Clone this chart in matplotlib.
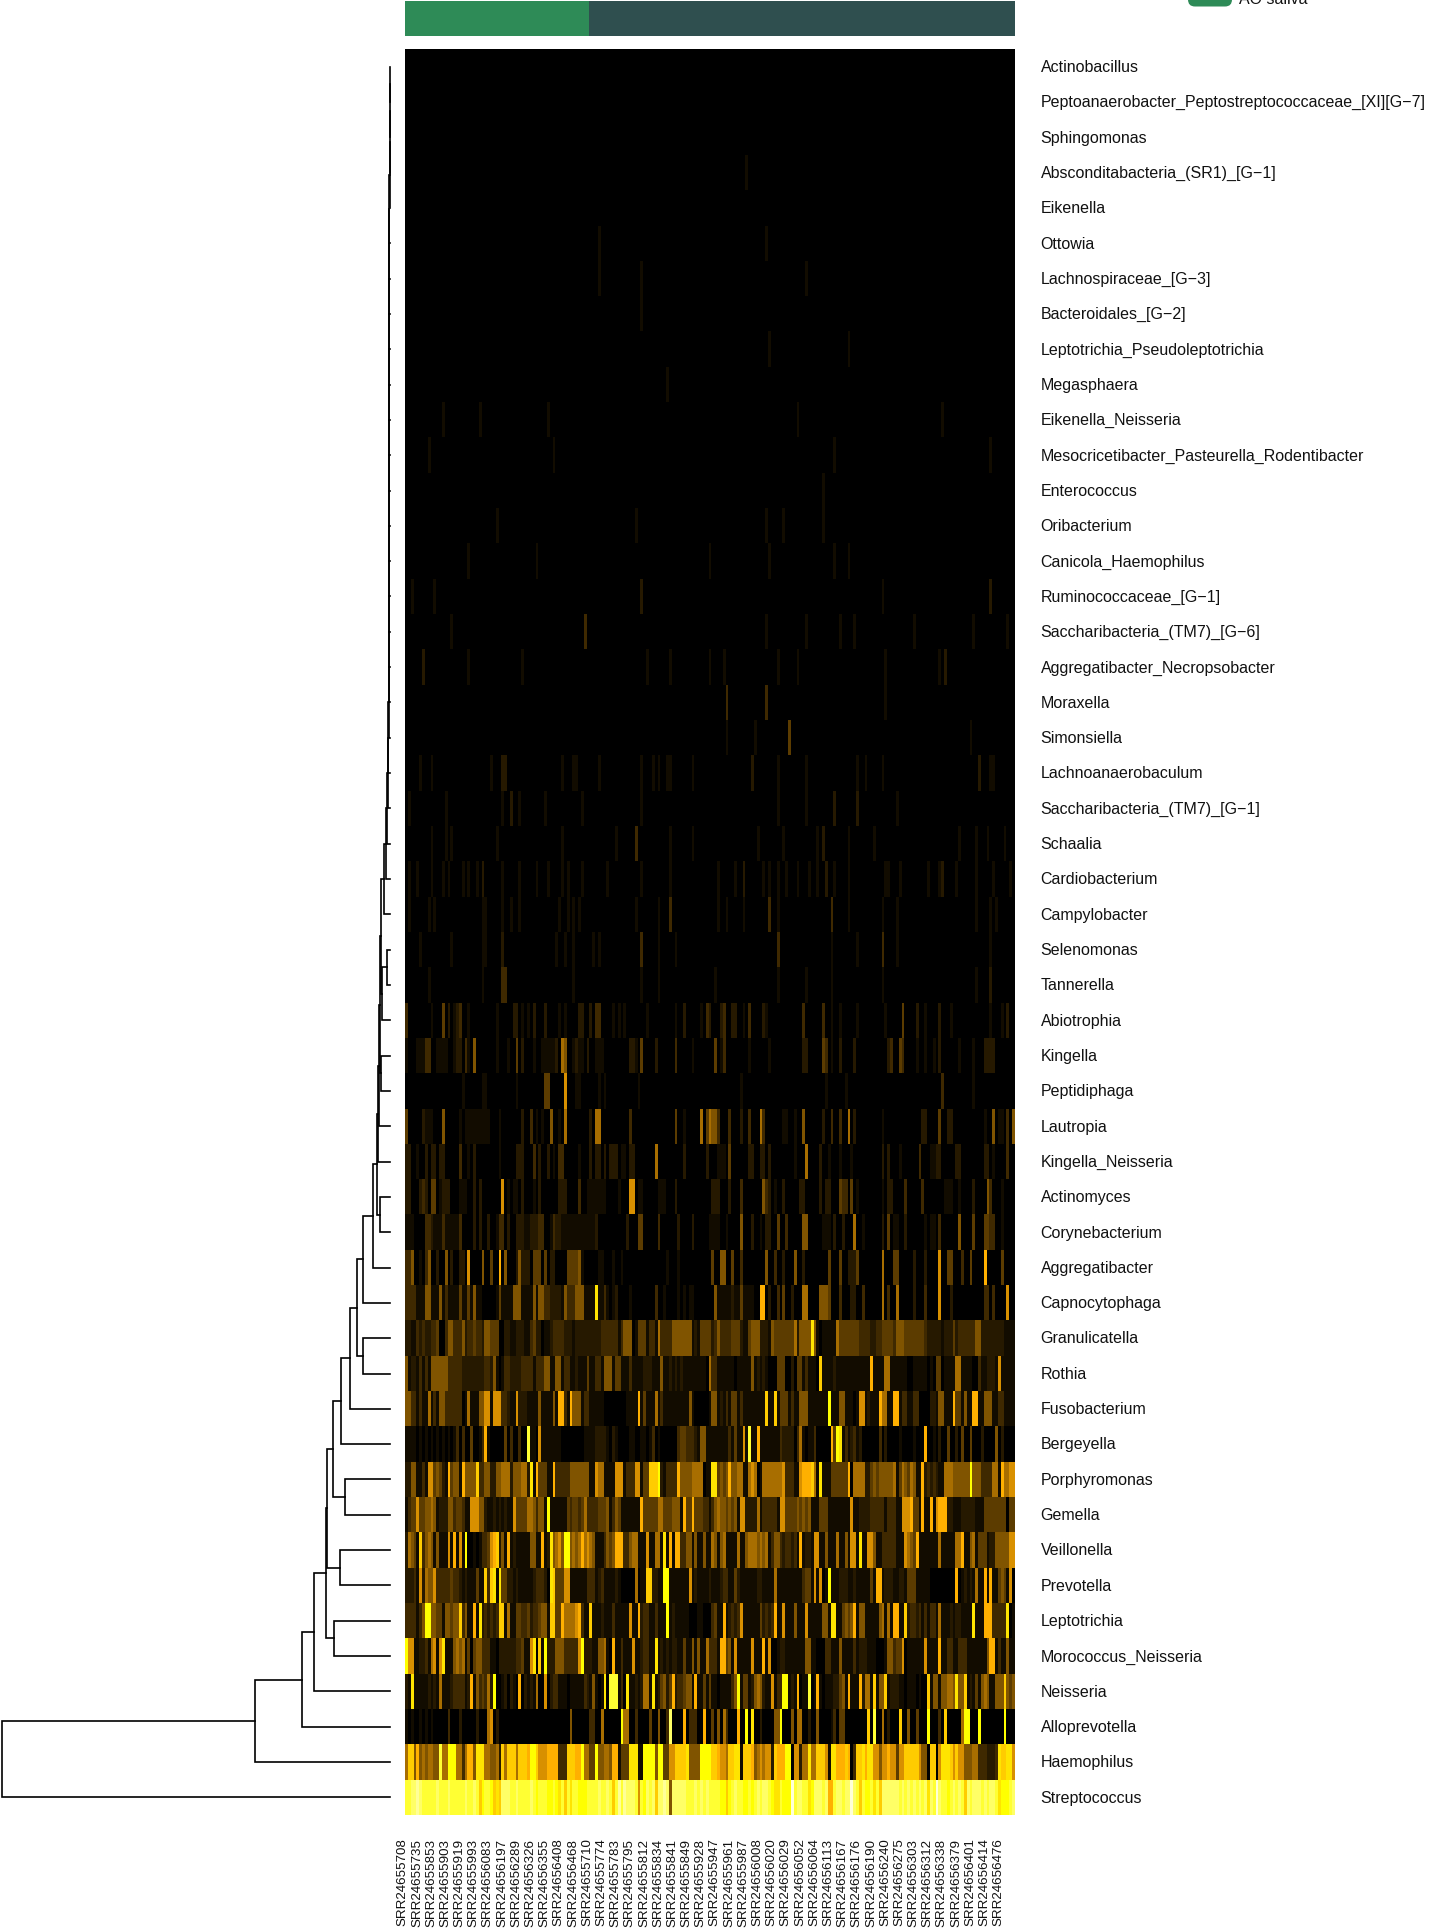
import numpy as np
import matplotlib

matplotlib.use('Agg')

import matplotlib.pyplot as plt
from matplotlib.colors import LinearSegmentedColormap, ListedColormap
from matplotlib.patches import FancyBboxPatch
from matplotlib.transforms import ScaledTranslation

plt.rcParams['font.family'] = ['Liberation Sans', 'DejaVu Sans']

taxa = [
    "Actinobacillus", "Peptoanaerobacter_Peptostreptococcaceae_[XI][G\u22127]", "Sphingomonas",
    "Absconditabacteria_(SR1)_[G\u22121]", "Eikenella", "Ottowia", "Lachnospiraceae_[G\u22123]",
    "Bacteroidales_[G\u22122]", "Leptotrichia_Pseudoleptotrichia", "Megasphaera", "Eikenella_Neisseria",
    "Mesocricetibacter_Pasteurella_Rodentibacter", "Enterococcus", "Oribacterium", "Canicola_Haemophilus",
    "Ruminococcaceae_[G\u22121]", "Saccharibacteria_(TM7)_[G\u22126]", "Aggregatibacter_Necropsobacter",
    "Moraxella", "Simonsiella", "Lachnoanaerobaculum", "Saccharibacteria_(TM7)_[G\u22121]", "Schaalia",
    "Cardiobacterium", "Campylobacter", "Selenomonas", "Tannerella", "Abiotrophia", "Kingella",
    "Peptidiphaga", "Lautropia", "Kingella_Neisseria", "Actinomyces", "Corynebacterium", "Aggregatibacter",
    "Capnocytophaga", "Granulicatella", "Rothia", "Fusobacterium", "Bergeyella", "Porphyromonas", "Gemella",
    "Veillonella", "Prevotella", "Leptotrichia", "Morococcus_Neisseria", "Neisseria", "Alloprevotella",
    "Haemophilus", "Streptococcus",
]

sample_labels = [
    "SRR24655708", "SRR24655735", "SRR24655853", "SRR24655903", "SRR24655919", "SRR24655993", "SRR24656083",
    "SRR24656197", "SRR24656289", "SRR24656326", "SRR24656355", "SRR24656408", "SRR24656468", "SRR24655710",
    "SRR24655774", "SRR24655783", "SRR24655795", "SRR24655812", "SRR24655834", "SRR24655841", "SRR24655849",
    "SRR24655928", "SRR24655947", "SRR24655961", "SRR24655987", "SRR24656008", "SRR24656020", "SRR24656029",
    "SRR24656052", "SRR24656064", "SRR24656113", "SRR24656167", "SRR24656176", "SRR24656190", "SRR24656240",
    "SRR24656275", "SRR24656303", "SRR24656312", "SRR24656338", "SRR24656379", "SRR24656401", "SRR24656414",
    "SRR24656476",
]

n_samples = 215
group_sizes = [65, 150]
group_colors = ["#2E8B57", "#2F4F4F"]

# colour per level 0-15
level_colors = [
    "#000000", "#120C00", "#261900", "#3F2900", "#5C3C00", "#805400", "#A86E00", "#D89000",
    "#FFB000", "#FFCC00", "#FFE400", "#FFFF00", "#FFFF33", "#FFFF66", "#FFFF99", "#FFFFD8",
]

# rows with only a few visible samples: row -> (sample, level 0-15)
faint_rows = {
    3: [(120, 1)],
    5: [(68, 1), (127, 1)],
    6: [(68, 1), (83, 1), (141, 1)],
    7: [(83, 1)],
    8: [(128, 1), (156, 1)],
    9: [(92, 1)],
    10: [(13, 1), (26, 1), (50, 1), (138, 1), (189, 1)],
    11: [(8, 1), (52, 1), (151, 1), (206, 1)],
    12: [(147, 1)],
    13: [(32, 1), (81, 1), (127, 1), (133, 1), (147, 1)],
    14: [(22, 1), (46, 1), (107, 1), (128, 1), (151, 1), (156, 1)],
    15: [(2, 1), (10, 1), (83, 2), (168, 1), (206, 2)],
    16: [(16, 1), (63, 3), (127, 1), (141, 1), (153, 1), (158, 1), (179, 1), (200, 1), (212, 1)],
    17: [(6, 2), (22, 1), (41, 1), (85, 1), (93, 1), (107, 1), (112, 1), (131, 1), (138, 1), (169, 1), (188, 1), (190, 2)],
    18: [(113, 3), (127, 3), (169, 1)],
    19: [(113, 1), (123, 1), (135, 4), (199, 1)],
    20: [(5, 1), (9, 1), (30, 1), (34, 2), (35, 2), (55, 1), (59, 1), (60, 1), (68, 1), (83, 1), (87, 1), (89, 1),
         (92, 1), (93, 1), (101, 1), (122, 2), (131, 1), (141, 1), (159, 1), (162, 1), (168, 1), (202, 2), (206, 1), (207, 1)],
    21: [(1, 1), (14, 1), (34, 1), (37, 2), (40, 1), (49, 1), (62, 1), (83, 1), (131, 1), (141, 1), (151, 2), (159, 2), (173, 1)],
    22: [(9, 1), (14, 1), (16, 1), (32, 1), (55, 1), (74, 1), (81, 3), (93, 1), (101, 1), (124, 1), (133, 1), (145, 1),
         (147, 2), (156, 1), (165, 1), (195, 1), (201, 1), (205, 1), (211, 1)],
    23: [(1, 1), (4, 1), (9, 1), (13, 1), (15, 1), (20, 1), (22, 1), (25, 1), (27, 2), (34, 1), (40, 1), (46, 1), (50, 1),
         (55, 1), (57, 1), (62, 1), (71, 1), (83, 1), (93, 1), (110, 1), (116, 1), (119, 2), (126, 1), (128, 1), (131, 1),
         (134, 1), (138, 1), (142, 1), (145, 1), (148, 2), (151, 1), (156, 1), (169, 1), (170, 1), (174, 1), (184, 1),
         (188, 1), (189, 2), (194, 1), (201, 1), (207, 1), (213, 1)],
    24: [(1, 1), (8, 1), (10, 1), (27, 1), (28, 1), (34, 1), (37, 1), (40, 1), (54, 1), (57, 1), (59, 1), (61, 1), (81, 1),
         (89, 1), (93, 3), (110, 1), (113, 1), (119, 1), (128, 3), (131, 1), (150, 3), (156, 1), (168, 1), (173, 1),
         (201, 1), (206, 1), (208, 1)],
    25: [(5, 1), (16, 1), (27, 1), (28, 1), (34, 2), (53, 1), (56, 1), (59, 1), (66, 1), (68, 1), (83, 3), (89, 1), (95, 1),
         (131, 3), (150, 1), (159, 1), (168, 3), (173, 1), (206, 1)],
    26: [(8, 1), (27, 1), (34, 3), (35, 3), (59, 1), (83, 1), (89, 1), (109, 1), (131, 1), (141, 1), (150, 1), (168, 1),
         (201, 1), (206, 2)],
    27: [(0, 3), (9, 1), (13, 4), (15, 2), (17, 1), (18, 2), (19, 3), (22, 1), (32, 1), (38, 2), (39, 2), (41, 1), (43, 1),
         (45, 2), (49, 2), (54, 1), (56, 1), (61, 2), (62, 2), (65, 2), (67, 3), (68, 3), (73, 1), (75, 1), (77, 1), (85, 1),
         (95, 1), (98, 2), (104, 1), (106, 3), (107, 2), (111, 2), (112, 3), (115, 2), (116, 2), (119, 1), (121, 3), (126, 2),
         (127, 1), (140, 3), (147, 3), (150, 1), (153, 1), (159, 1), (169, 1), (175, 4), (180, 2), (183, 1), (188, 2),
         (192, 1), (206, 1), (210, 1), (212, 2)],
    28: [(0, 1), (4, 1), (5, 1), (6, 1), (7, 3), (8, 3), (11, 1), (12, 1), (13, 1), (14, 1), (17, 1), (18, 2), (19, 2), (21, 3),
         (22, 1), (24, 5), (32, 1), (36, 1), (39, 4), (41, 2), (45, 1), (48, 1), (49, 1), (50, 1), (51, 1), (52, 1), (53, 2),
         (55, 6), (56, 5), (59, 1), (60, 2), (61, 1), (62, 1), (64, 2), (67, 1), (68, 1), (69, 1), (79, 2), (80, 2), (81, 1),
         (83, 4), (88, 2), (95, 3), (101, 1), (109, 4), (111, 1), (112, 3), (121, 1), (128, 1), (140, 2), (141, 2), (147, 4),
         (148, 3), (150, 1), (153, 2), (158, 2), (170, 2), (171, 3), (174, 4), (175, 3), (180, 1), (183, 1), (186, 1),
         (188, 2), (195, 1), (200, 1), (204, 2), (205, 2), (206, 2), (207, 2)],
    29: [(20, 1), (27, 1), (28, 1), (39, 1), (49, 4), (50, 4), (56, 7), (60, 1), (61, 1), (68, 1), (70, 1), (82, 1),
         (118, 1), (148, 1), (155, 1), (189, 3), (200, 1)],
}

# rows 30-49, one hex digit per sample (level 0-15)
row_30 = "4000002111 0005000001 0111111111 0001000000 0200301010 0500106000 0000020660 0000000003 0000000000 0000040010 00006046 55 3000300020 0300063000 0001100100 5000000200 3003006020 0000000010 0000000000 0022000040 0220000000 0000100501 10305"
row_31 = "2200100202 2022000003 0010200000 0001000002 2200030200 2010330000 0100020220 2022201102 2000000060 0000000020 00000020 00 1110400000 0220022020 0000000100 0600002001 0001000100 0000000020 2000100000 0300011220 0000220000 0000220100 00300"
row_32 = "2200023204 4012220001 1100202000 0000701011 0200010200 0000222000 0300111111 1000010007 7011000001 1100020000 00000000 22 2000200030 0000005320 1002000002 2000002022 0004330401 0000000010 2200003000 0030000000 1110010000 2000053000 10000"
row_33 = "1110000332 1113111113 0000202002 0013302002 2211222330 0132211111 1111111200 0000000020 0044000003 0000002000 02000001 11 1001000050 0020010220 0400300000 5500000111 0200200060 0100000020 4011002000 0001011030 0000050000 4000443300 10000"
row_34 = "3350010350 0200502002 2070000500 4008050002 5222044404 0220000444 4510000011 0001001000 0000000000 0010001000 00000000 40 0550040030 0000000500 3002000500 2000000004 0004002224 0000000060 0044000002 0002000070 0440003004 0000800000 40000"
row_35 = "3333111551 1151311114 1141511000 0014111155 5111151553 3222215333 5551111a11 3101200001 0000000030 0100001010 11000000 05 1111121141 1110088020 0304002000 6600005554 0003000220 0300000060 3006000002 0003000070 0020000000 0000330300 00700"
row_36 = "2211323223 3400355333 5233433255 4440022112 2211342201 1233332221 2222222223 3333313555 0144413316 3333555555 51214444 23 5333344421 1455522215 4444444625 555a510111 1164444444 3333223344 4435554444 4443222221 2224233333 3552222222 21111"
row_37 = "5122131315 5555533333 2222222233 2510133222 2333313335 5115513311 2111411331 5551441113 1111222111 5112121211 11111106 33 1111110111 1151212100 0444002044 1311109111 1211111111 1111811116 6111111001 1111010440 1111661111 0031122217 11111"
row_38 = "5533131161 3155333333 0161115577 1777332117 2221111511 1151883185 5513311111 0000000011 1181411161 3111111111 51000001 55 1213144131 1111111911 9144413115 551111111b 1115511101 7712111866 1188133113 3000022155 1118441511 8811555113 31111"
row_39 = "1111010101 0101010130 3004001381 0000040300 300c110711 1111100000 0001111222 2102100001 1001101301 0000003443 33215511 11 1111314117 1c11811111 1132222036 1011300000 84ba131231 2000000302 0000100001 0008001020 0400204004 0002000050 20000"
row_40 = "2255113177 4542184551 8555593355 2255666255 5662a18444 1183333355 5555511766 1111777133 377144999b 2133338555 56666011 aa 4545855661 1676016666 6667333117 888961a111 4444448066 6622454555 5561465465 1182323211 666555555b 5553333661 86677"
row_41 = "1344744556 5122255344 3117775521 1212121174 4446653551 b111111434 4346333344 4513541111 1118444446 6444555184 48444331 35 6554545177 2222613333 3177444454 5451114441 1111111711 2222333331 3331177784 4181181788 8221112222 2111444444 44044"
row_42 = "2654193565 1511171817 1b00101334 7892518121 1111551181 2a5675bb56 5686765111 3545888335 6611171166 1a18188335 51511511 65 1561111611 5666565613 5532332318 1221771151 1161151771 a117751133 3331117654 8111111161 1111668115 6144412255 55577"
row_43 = "2223172655 7333334332 1211141193 9a1a442212 1111123332 0a94447711 1111333123 1111210000 0601199221 1bb1111111 71211112 11 1233114211 1111221111 6111111111 344171701b 1112221121 1111418812 2211221444 1111100000 0000801212 1611818114 54170"
row_44 = "3333135bb5 5441554559 351181a232 3239916114 4334233455 1994486666 7831191112 1113111117 1182331131 11b1211111 00011000 34 1181232371 1111142323 8117111511 1711111551 aa11454581 5511111561 6188119233 2313133161 1121221111 a111888333 33a01"
row_45 = "b771122316 717a111565 6140455333 1102222223 34117a091b 2225553333 37b2221155 6108113111 71123311a1 2121221141 15151163 33 1884517111 1171118170 0122111111 1551100033 1115111131 2221110001 5534470111 1117111181 1331133311 1111158813 11511"
row_46 = "21a1111121 2161112333 3128153436 2b00120210 8021216007 0233111011 1113215101 a0ccc130a1 1212661a12 4524823345 51811414 11 0111135b14 4125652117 133bb12180 11c0181011 1224518111 8266191559 1222110111 0100915515 5665a55912 1415651155 59545"
row_47 = "1010010101 0000030002 0000020006 7020000000 0000000000 0000000050 0000033006 000000b660 0300004005 003d000080 33300800 40 5063000800 b0a0020000 55b0005066 0020050000 1304400000 00090c0060 2000900500 4000b00030 9000006bb0 00b0000000 0b000"
row_48 = "6995856566 55c66bbb66 36885aaa66 5562969996 9998bb9777 8888333999 88b6644b55 665881444a aa11bbbb5b b44779999a 5555bbbb 99 877699aa19 9985676772 9888bb0772 66a6699971 aa88898039 9a8aa77577 8774779999 975509907a aa97977555 663332223a 99aa7"
row_49 = "ccddedcccc cdcccdcccc cdccdc9bcc b9a9dddccd ccccdcbccc bbcbac9cac cbbbccccdc cdc9cecedd dc7cbdcd9d ded5dddddc ccdcdcdc cc cbb9bcdccb bcbcdcddcb aacbbbfcdd ccabdddcd8 8cddcddfdc 9cbbcac9dd ddddcdcdcd cdcdadcfdc cbcdcdc9dc dddcdcddca bbbcd"

dense_rows = [
    row_30, row_31, row_32, row_33, row_34, row_35, row_36, row_37, row_38, row_39,
    row_40, row_41, row_42, row_43, row_44, row_45, row_46, row_47, row_48, row_49,
]

# row clustering: leaves 1..24 are chained on top of leaf 0 at these distances
ladder_dist = [0.3, 0.4, 0.5, 0.5, 0.6, 0.6, 0.7, 0.7, 0.8, 0.8, 0.9, 0.9, 1.0, 1.0, 1.1, 1.2, 1.3, 1.4, 1.5, 2.0, 2.3, 3.0, 4.5, 6.0]
# then merges: ids below 50 are leaves, 50+k is the k-th merge (ladder included)
merge_a = [25, 74, 73, 28, 76, 78, 79, 32, 80, 82, 83, 36, 84, 86, 87, 40, 88, 42, 90, 44, 92, 94, 95, 96, 97]
merge_b = [26, 27, 75, 29, 77, 30, 31, 33, 81, 34, 35, 37, 85, 38, 39, 41, 89, 43, 91, 45, 93, 46, 47, 48, 49]
merge_dist = [3.5, 8, 8.7, 8.7, 9.7, 11, 12, 9.7, 13, 17, 27, 27, 33, 40, 49, 45, 57, 50, 63, 56, 64.3, 76, 88, 135, 388]

FIG_W, FIG_H = 1441, 1930
HEAT_L, HEAT_R, HEAT_T, HEAT_B = 405, 1015, 49, 1815
LINE_W = 1.2


def axes_px(fig, left, right, top, bottom):
    """Make axes from pixel edges, y counted from the top of the figure"""
    return fig.add_axes([left / FIG_W, 1 - bottom / FIG_H, (right - left) / FIG_W, (bottom - top) / FIG_H])


def build_matrix():
    """Put sparse and dense rows together into one level matrix"""
    levels = np.zeros((len(taxa), n_samples))
    for row, spikes in faint_rows.items():
        for sample, level in spikes:
            levels[row, sample] = level
    for i, text in enumerate(dense_rows):
        digits = text.replace(" ", "")
        if len(digits) != n_samples:
            raise ValueError(f"row {30 + i} has {len(digits)} values")
        levels[30 + i] = [int(d, 16) for d in digits]
    return levels


def draw_dendrogram(ax):
    """Draw the row tree as bracket lines"""
    nodes = [(float(i), 0.0) for i in range(len(taxa))]
    pairs = [(0, 1, ladder_dist[0])]
    pairs += [(50 + k - 1, k + 1, d) for k, d in enumerate(ladder_dist) if k > 0]
    pairs += list(zip(merge_a, merge_b, merge_dist))
    for a, b, dist in pairs:
        ya, ha = nodes[a]
        yb, hb = nodes[b]
        ax.plot([ha, dist, dist, hb], [ya, ya, yb, yb], color="black", lw=LINE_W,
                solid_joinstyle="miter", clip_on=False)
        nodes.append(((ya + yb) / 2, dist))


fig = plt.figure(figsize=(FIG_W / 100, FIG_H / 100), dpi=100)

cmap = ListedColormap(level_colors)

ax_heat = axes_px(fig, HEAT_L, HEAT_R, HEAT_T, HEAT_B)
ax_heat.imshow(build_matrix(), cmap=cmap, vmin=-0.5, vmax=15.5, aspect="auto", interpolation="nearest")
for spine in ax_heat.spines.values():
    spine.set_visible(False)

ax_heat.yaxis.tick_right()
ax_heat.set_yticks(np.arange(len(taxa)), taxa, fontsize=11.55, color="#111111")
ax_heat.set_xticks(np.arange(len(sample_labels)) * 5, sample_labels, rotation=90, fontsize=9.6, color="#111111")
ax_heat.tick_params(axis="y", length=0, pad=18.5)
ax_heat.tick_params(axis="x", length=0, pad=17)
shift_x = ScaledTranslation(-3.6 / 100, 0, fig.dpi_scale_trans)
for label in ax_heat.get_xticklabels():
    label.set_transform(label.get_transform() + shift_x)
shift_y = ScaledTranslation(0, 0.7 / 100, fig.dpi_scale_trans)
for label in ax_heat.get_yticklabels():
    label.set_transform(label.get_transform() + shift_y)

ax_group = axes_px(fig, HEAT_L, HEAT_R, 1, 36)
ax_group.imshow(np.repeat(np.arange(len(group_sizes)), group_sizes)[None, :], cmap=ListedColormap(group_colors),
                aspect="auto", interpolation="nearest")
ax_group.axis("off")

ax_tree = axes_px(fig, 2, 390, HEAT_T, HEAT_B)
ax_tree.set_xlim(388, 0)
ax_tree.set_ylim(len(taxa) - 0.5, -0.5)
draw_dendrogram(ax_tree)
ax_tree.axis("off")

# legend runs off the top edge of the picture in the original
ax_leg = axes_px(fig, 0, FIG_W, 0, FIG_H)
ax_leg.set_xlim(0, FIG_W)
ax_leg.set_ylim(FIG_H, 0)
ax_leg.axis("off")
ax_leg.patch.set_alpha(0)
ax_leg.add_patch(FancyBboxPatch((1188, -30), 44, 36.5, boxstyle="round,pad=0,rounding_size=7",
                                fc=group_colors[0], ec="none"))
ax_leg.text(1239, 4, "AO saliva", fontsize=11.55, color="#111111", va="baseline", ha="left")

fig.savefig("out.png", dpi=100)
plt.close(fig)
